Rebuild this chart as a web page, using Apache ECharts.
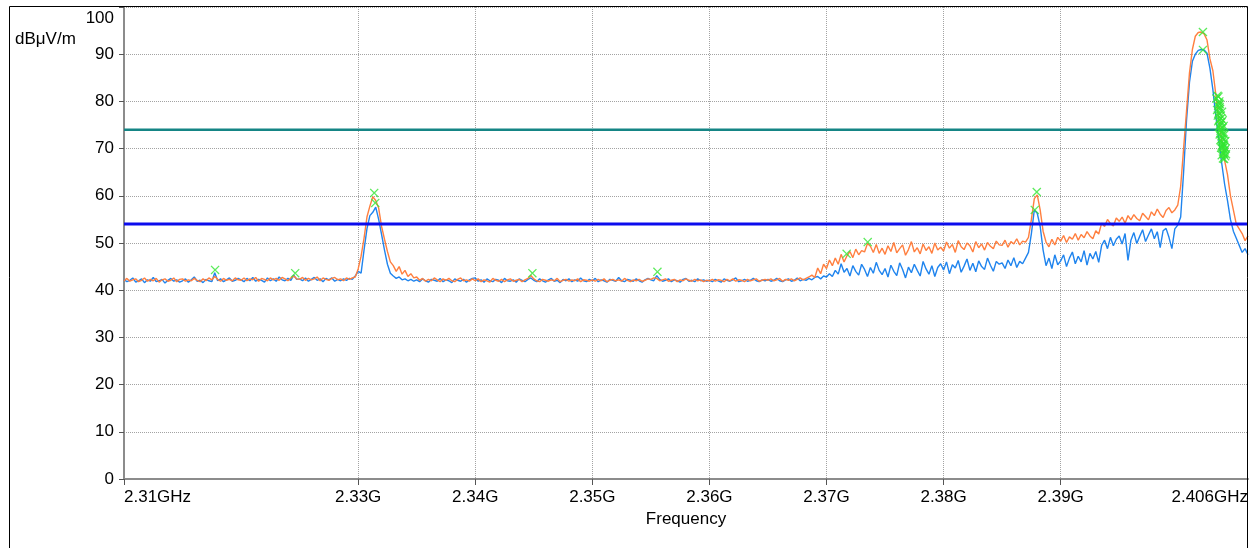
<!DOCTYPE html>
<html>
<head>
<meta charset="utf-8">
<title>Espectro 2.31 - 2.406 GHz</title>
<script src="https://cdn.jsdelivr.net/npm/echarts/dist/echarts.min.js"></script>
<style>
  html, body { margin: 0; padding: 0; background: #fff; }
  #grafico-espectro { width: 1252px; height: 548px; }
</style>
</head>
<body>
<div id="grafico-espectro"></div>
<script>
// --- DADOS ---
// varredura: 2310 MHz a 2406 MHz, passo de 0.25 MHz (385 pontos)
var freqInicio = 2310;
var freqPasso = 0.25;

// traço azul (média)
var valoresMedia = [
  42.3, 41.8, 42.1, 42.6, 41.7, 42.0, 42.4, 41.6, 42.2, 41.9, 42.7, 41.8, 42.0, 42.3, 41.5, 42.1, 42.5, 41.9, 42.2, 41.7,
  42.0, 42.4, 41.7, 42.2, 42.8, 41.9, 42.1, 41.6, 42.3, 42.0, 41.8, 43.7, 42.0, 42.4, 41.8, 42.2, 42.6, 41.9, 42.1, 42.5,
  42.2, 41.8, 42.5, 42.0, 42.7, 41.9, 42.3, 42.1, 41.7, 42.6, 42.0, 42.4, 41.9, 42.8, 42.2, 42.0, 42.5, 42.1, 43.2, 42.3,
  42.4, 42.0, 42.6, 41.9, 42.3, 42.7, 42.1, 42.4, 41.8, 42.5, 42.2, 42.6, 41.9, 42.3, 42.0, 42.4, 42.1, 42.5, 42.3, 43.0,
  44.0, 43.6, 48.5, 53.0, 55.8, 56.5, 57.6, 55.0, 51.8, 48.5, 45.5, 43.6, 43.0, 42.5, 42.8, 42.2, 42.4, 42.0, 42.3, 41.9,
  42.2, 41.8, 42.4, 42.0, 41.7, 42.3, 42.1, 41.9, 42.5, 41.8, 42.2, 42.0, 41.6, 42.4, 42.1, 41.9, 42.3, 41.7, 42.2, 42.5,
  42.6, 41.9, 42.2, 41.7, 42.4, 42.0, 41.8, 42.3, 42.1, 41.6, 42.5, 42.0, 41.9, 42.2, 41.7, 42.4, 42.1, 41.8, 42.3, 42.6,
  42.1, 41.8, 42.4, 42.0, 41.7, 42.2, 42.5, 41.9, 42.1, 41.6, 42.3, 42.0, 42.4, 41.8, 42.2, 41.9, 42.6, 42.0, 41.8, 42.3,
  42.0, 42.5, 41.8, 42.2, 42.0, 41.7, 42.3, 42.1, 41.9, 42.7, 42.0, 41.8, 42.3, 42.1, 41.9, 42.4, 42.0, 41.7, 42.2, 42.5,
  42.2, 42.0, 43.1, 42.3, 41.9, 42.1, 42.4, 41.8, 42.2, 42.0, 41.7, 42.3, 42.5, 41.9, 42.1, 41.8, 42.4, 42.0, 42.2, 41.9,
  42.1, 41.8, 42.3, 42.0, 41.7, 42.4, 42.1, 41.9, 42.2, 42.6, 41.8, 42.0, 42.3, 41.9, 42.1, 42.5, 42.0, 41.8, 42.2, 42.0,
  42.3, 41.9, 42.1, 42.5, 42.0, 41.8, 42.2, 42.4, 41.9, 42.1, 42.6, 42.0, 42.3, 42.1, 42.5, 42.2, 42.7, 42.9, 42.4, 43.0,
  42.8, 43.5, 42.9, 44.2, 43.4, 45.6, 43.8, 44.6, 43.0, 45.2, 44.0, 43.2, 45.5, 44.4, 42.9, 44.8, 43.6, 45.9, 44.2, 43.3,
  44.6, 42.8, 45.3, 44.0, 43.1, 45.8, 44.4, 42.6, 44.9, 43.7, 45.5, 44.2, 43.0, 46.1, 44.5, 43.4, 45.2, 42.9, 44.8, 45.6,
  44.3, 46.0, 43.5, 45.4, 44.7, 46.3, 43.8, 45.1, 46.6, 44.2, 45.7, 43.9, 46.2, 45.0, 44.4, 46.8, 45.3, 44.0, 46.1, 45.5,
  45.8, 44.6, 46.4, 45.2, 46.9, 44.8, 46.1, 45.6, 46.8, 48.0, 52.0, 57.0, 56.3, 53.5, 48.5, 45.2, 46.8, 44.6, 47.5, 45.4,
  46.2, 47.5, 45.0, 46.8, 48.1, 45.6, 47.2, 46.0, 48.4, 45.3, 47.8, 46.6, 48.2, 45.9, 49.5, 50.6, 48.8, 51.2, 49.4, 50.8,
  51.5, 49.8, 52.0, 46.3, 50.6, 52.2, 49.9, 51.4, 52.8, 50.3, 51.7, 53.0, 50.9, 52.4, 49.0, 52.6, 53.1, 51.2, 48.8, 53.0,
  53.8, 55.5, 65.0, 76.0, 84.0, 88.5, 90.0, 90.8, 91.0, 90.9, 90.2, 87.0, 82.5, 77.0, 72.0, 67.0, 62.5, 59.0, 55.0, 52.5,
  51.0, 49.5, 48.0, 48.8, 47.5
];

// traço laranja (pico)
var valoresPico = [
  42.0, 42.5, 41.9, 42.2, 42.4, 41.8, 42.1, 42.6, 41.9, 42.3, 42.0, 42.5, 41.7, 42.2, 42.4, 41.9, 42.1, 42.6, 41.8, 42.3,
  42.4, 41.9, 42.2, 42.0, 42.5, 42.1, 41.8, 42.4, 42.0, 42.6, 42.2, 42.9, 42.3, 41.9, 42.5, 42.1, 42.3, 42.0, 42.6, 42.2,
  42.1, 42.6, 42.0, 42.4, 42.2, 42.7, 41.9, 42.5, 42.3, 42.0, 42.6, 42.2, 42.5, 42.1, 42.7, 42.4, 42.0, 42.6, 43.0, 42.4,
  42.3, 42.7, 42.1, 42.5, 42.2, 42.4, 42.8, 42.0, 42.6, 42.3, 42.1, 42.5, 42.7, 42.2, 42.4, 42.0, 42.6, 42.3, 42.6, 42.8,
  44.5, 47.2, 51.0, 55.5, 57.8, 59.8, 59.0, 57.4, 53.5, 50.8, 48.2, 46.0, 45.2, 44.0, 45.0, 43.4, 44.2, 42.9, 43.5, 42.6,
  42.8, 42.1, 42.5, 41.9, 42.3, 42.0, 42.6, 42.2, 41.8, 42.4, 42.1, 42.5, 42.0, 41.8, 42.3, 42.6, 42.0, 42.2, 41.9, 42.4,
  42.0, 42.4, 41.8, 42.2, 42.0, 41.7, 42.5, 42.1, 41.9, 42.3, 41.8, 42.2, 42.4, 41.9, 42.1, 42.3, 41.8, 42.2, 42.5, 43.1,
  42.4, 42.0, 41.8, 42.3, 42.1, 41.9, 42.2, 42.0, 42.5, 41.8, 42.1, 42.3, 41.9, 42.2, 42.0, 42.4, 41.8, 42.2, 42.1, 41.9,
  42.2, 41.9, 42.3, 42.0, 42.4, 41.8, 42.1, 42.3, 42.0, 42.2, 41.9, 42.5, 42.1, 41.8, 42.2, 42.0, 42.3, 41.9, 42.1, 42.4,
  42.3, 42.6, 42.5, 42.0, 42.2, 42.4, 41.9, 42.1, 42.3, 41.8, 42.2, 42.0, 42.4, 42.1, 41.9, 42.3, 42.0, 42.2, 41.8, 42.1,
  42.0, 42.3, 41.9, 42.2, 42.1, 41.8, 42.3, 42.0, 42.4, 41.9, 42.2, 42.1, 41.8, 42.3, 42.0, 42.2, 42.4, 41.9, 42.1, 42.3,
  42.1, 42.4, 42.0, 42.2, 42.5, 41.9, 42.3, 42.1, 42.4, 42.0, 42.3, 42.6, 42.2, 42.5, 42.8, 43.2, 42.7, 44.7, 43.5, 45.5,
  44.6, 46.4, 45.2, 46.8, 45.5, 47.6, 46.0, 47.3, 48.2, 46.9, 48.7, 47.5, 48.4, 48.1, 49.9, 49.3, 48.0, 49.7, 47.8, 48.9,
  47.6, 49.4, 48.2, 50.1, 47.9, 48.8, 49.6, 47.4, 48.6, 50.3, 48.1, 49.0, 47.7, 49.8, 48.4, 49.2, 47.8, 50.0, 48.5, 49.1,
  48.3, 50.2, 48.9, 49.7, 48.0, 50.5, 49.2, 48.6, 50.0, 49.4, 48.1, 50.3, 49.0, 49.8, 48.5, 50.1, 49.3, 48.8, 50.4, 49.6,
  49.5, 50.6, 49.1, 50.3, 49.8, 50.9, 49.6, 50.4, 50.2, 51.2, 55.0, 59.4, 60.2, 57.0, 52.5, 50.2, 49.2, 50.8, 49.6, 51.2,
  50.4, 51.6, 50.1, 51.3, 50.8, 52.0, 50.6, 51.8, 51.1, 52.4, 51.5, 50.9, 52.6, 51.9, 54.2, 53.5, 55.0, 54.1, 53.6, 55.3,
  54.6, 55.5, 54.2, 55.8, 54.9, 56.0, 55.2, 54.7, 56.3, 55.6, 54.9, 56.6, 55.8, 57.2, 56.1, 55.4, 56.9, 57.5, 56.4, 57.0,
  58.0, 62.0, 70.0, 78.0, 86.0, 91.0, 93.8, 94.6, 94.7, 94.3, 93.0, 89.0, 86.5, 81.5, 76.0, 72.0, 67.5, 64.5, 60.0, 57.0,
  54.0, 53.0, 52.0, 50.5, 51.5
];

// limites (dBuV/m)
var limitePico = 74;
var limiteMedia = 54;

// marcadores verdes [MHz, dBuV/m]
var marcadores = [
  [2317.78, 44.3], [2324.62, 43.6], [2331.37, 60.6], [2331.46, 58.5],
  [2344.88, 43.6], [2355.56, 43.9], [2371.72, 47.7], [2373.52, 50.2],
  [2387.96, 60.8], [2387.79, 57.0], [2402.15, 94.7], [2402.15, 90.9],
  [2403.40, 81.2], [2403.55, 80.0], [2403.45, 79.1], [2403.62, 78.4], [2403.50, 77.6],
  [2403.68, 77.0], [2403.56, 76.2], [2403.74, 75.6], [2403.62, 75.0], [2403.80, 74.4],
  [2403.66, 73.8], [2403.86, 73.2], [2403.72, 72.6], [2403.90, 72.0], [2403.78, 71.4],
  [2403.95, 70.8], [2403.84, 70.2], [2404.00, 69.6], [2403.90, 69.0], [2404.05, 68.4],
  [2403.96, 67.8], [2403.58, 78.8], [2403.70, 76.4], [2403.64, 74.2], [2403.82, 72.2],
  [2403.76, 70.6], [2403.94, 68.8], [2403.52, 79.6], [2403.88, 71.0], [2403.70, 73.4],
  [2403.30, 80.6], [2403.48, 81.0], [2403.36, 78.2], [2403.42, 77.0], [2403.60, 79.4],
  [2403.46, 75.8], [2403.78, 77.8], [2403.52, 74.6], [2403.84, 76.0], [2403.58, 73.0],
  [2403.92, 74.8], [2403.64, 71.8], [2404.00, 73.0], [2403.70, 70.2], [2404.06, 71.6],
  [2403.76, 68.6], [2404.10, 70.0], [2403.86, 67.9], [2404.12, 68.8], [2403.98, 70.4]
];

var eixoXMin = 2310;
var eixoXMax = 2406;
// só as frequências com rótulo têm risquinho no eixo
var ticksX = [2310, 2330, 2340, 2350, 2360, 2370, 2380, 2390];

var fonte = '"Liberation Sans", Arial, sans-serif';

function montarSerie(valores) {
    var pts = [];
    for (var i = 0; i < valores.length; i++) {
        pts.push([freqInicio + i * freqPasso, valores[i]]);
    }
    return pts;
}

function iniciarGraficoEspectro() {
    var elementoDOM = document.getElementById('grafico-espectro');
    var grafico = echarts.init(elementoDOM, null, { renderer: 'canvas' });

    var gradeLinha = { lineStyle: { color: '#a3a3a3', width: 1, type: [1, 1] } };

    var option = {
        animation: false,
        backgroundColor: '#fff',
        grid: { left: 124, right: 4, top: 7, bottom: 69 },
        textStyle: { fontFamily: fonte },
        xAxis: {
            type: 'value',
            min: eixoXMin,
            max: eixoXMax,
            interval: 10,
            name: 'Frequency',
            nameLocation: 'middle',
            nameGap: 29,
            nameTextStyle: { color: '#000', fontSize: 17, fontFamily: fonte },
            axisLine: { lineStyle: { color: '#8c8c8c', width: 2 } },
            axisTick: { length: 6, customValues: ticksX, lineStyle: { color: '#555', width: 1 } },
            axisLabel: {
                color: '#000',
                fontSize: 17,
                fontFamily: fonte,
                margin: 10,
                showMinLabel: true,
                showMaxLabel: true,
                alignMinLabel: 'left',
                alignMaxLabel: 'right',
                formatter: function (v) {
                    if (v === 2310) return '2.31GHz';
                    if (v === 2406) return '2.406GHz';
                    if (v === 2320 || v === 2400) return '';
                    return (v / 1000).toFixed(2) + 'G';
                }
            },
            splitLine: gradeLinha
        },
        yAxis: {
            type: 'value',
            min: 0,
            max: 100,
            interval: 10,
            axisLine: { show: true, lineStyle: { color: '#8c8c8c', width: 2 } },
            axisTick: { show: true, length: 5, lineStyle: { color: '#555', width: 1 } },
            axisLabel: {
                color: '#000',
                fontSize: 17,
                fontFamily: fonte,
                margin: 10,
                formatter: function (v) {
                    if (v === 100) return '{topo|100}';
                    return String(v);
                },
                rich: {
                    topo: { color: '#000', fontSize: 17, fontFamily: fonte, padding: [23, 0, 0, 0] }
                }
            },
            splitLine: gradeLinha
        },
        graphic: [
            {
                type: 'rect',
                z: 100,
                silent: true,
                shape: { x: 9.5, y: 6.5, width: 1238, height: 600 },
                style: { fill: 'none', stroke: '#000', lineWidth: 1 }
            },
            {
                type: 'text',
                z: 100,
                left: 15,
                top: 31,
                style: { text: 'dB\u03bcV/m', fill: '#000', font: '17px ' + fonte }
            }
        ],
        series: [
            {
                name: 'Average',
                type: 'line',
                data: montarSerie(valoresMedia),
                showSymbol: false,
                sampling: 'none',
                lineStyle: { color: '#1f84ee', width: 1.4 },
                z: 2
            },
            {
                name: 'Peak',
                type: 'line',
                data: montarSerie(valoresPico),
                showSymbol: false,
                sampling: 'none',
                lineStyle: { color: '#ff7f3f', width: 1.4 },
                z: 3
            },
            {
                name: 'Limite pico',
                type: 'line',
                data: [[eixoXMin, limitePico], [eixoXMax, limitePico]],
                showSymbol: false,
                lineStyle: { color: '#158585', width: 2.5 },
                z: 4
            },
            {
                name: 'Limite media',
                type: 'line',
                data: [[eixoXMin, limiteMedia], [eixoXMax, limiteMedia]],
                showSymbol: false,
                lineStyle: { color: '#0c0ced', width: 3 },
                z: 4
            },
            {
                name: 'Marcadores',
                type: 'scatter',
                data: marcadores,
                symbol: 'path://M1,0L5,4L9,0L10,1L6,5L10,9L9,10L5,6L1,10L0,9L4,5L0,1Z',
                symbolSize: 9,
                itemStyle: { color: '#33e633' },
                z: 5
            }
        ]
    };
    grafico.setOption(option);
}

iniciarGraficoEspectro();
</script>
</body>
</html>
